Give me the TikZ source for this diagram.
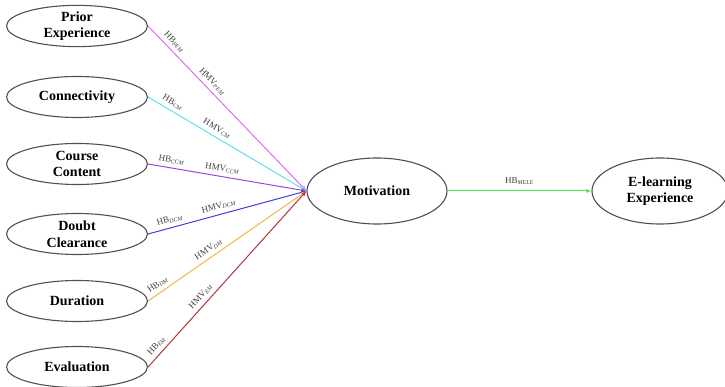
\documentclass[tikz,border=0pt]{standalone}
\usepackage{fontspec}
\setmainfont{Liberation Serif}
\usepackage{tikz}
\usetikzlibrary{shapes, arrows.meta, positioning, calc}
\definecolor{pemviolet}{RGB}{222, 110, 232}
\definecolor{cmcyan}{RGB}{90, 228, 232}
\definecolor{ccmpurple}{RGB}{160, 70, 215}
\definecolor{dcmblue}{RGB}{70, 60, 220}
\definecolor{dmorange}{RGB}{242, 182, 70}
\definecolor{emred}{RGB}{182, 52, 64}
\definecolor{melegreen}{RGB}{70, 232, 70}
\definecolor{rimgray}{RGB}{80, 80, 80}

\tikzset{
  factor/.style={ellipse, draw=rimgray, line width=1.1pt, inner sep=0pt,
    minimum width=141pt, minimum height=41pt, align=center,
    font=\fontsize{14}{16.5}\selectfont\bfseries},
  hub/.style={factor, minimum width=140pt, minimum height=66pt},
  linkarrow/.style={line width=1pt, -{Latex[length=5pt, width=4pt]}},
  coef/.style={sloped, above=3pt, inner sep=1pt, text=black!75,
    font=\fontsize{9}{10}\selectfont}
}
\newcommand{\coefsub}[1]{\textsubscript{\itshape\fontsize{6}{7}\selectfont #1}}

\begin{document}
\begin{tikzpicture}[x=1pt, y=-1pt]
  \useasboundingbox (0,0) rectangle (725,387);
  % Left: the six factors
  \node[factor] (pe) at (77, 26) {Prior\\Experience};
  \node[factor] (cn) at (77, 97) {Connectivity};
  \node[factor] (cc) at (77, 164) {Course\\Content};
  \node[factor] (dc) at (77, 234) {Doubt\\Clearance};
  \node[factor] (du) at (77, 301) {Duration};
  \node[factor] (ev) at (77, 367) {Evaluation};

  % Middle and right
  \node[hub] (mot) at (377, 191) {Motivation};
  \node[hub, minimum width=136pt] (ele) at (660, 191) {E-learning\\Experience};

  % Paths into motivation
  \draw[linkarrow, pemviolet] (pe.east) -- (mot.west)
    node[coef, pos=0.13] {HB\coefsub{PEM}} node[coef, pos=0.37] {HMV\coefsub{PEM}};
  \draw[linkarrow, cmcyan] (cn.east) -- (mot.west)
    node[coef, pos=0.13] {HB\coefsub{CM}} node[coef, pos=0.41] {HMV\coefsub{CM}};
  \draw[linkarrow, ccmpurple] (cc.east) -- (mot.west)
    node[coef, pos=0.14] {HB\coefsub{CCM}} node[coef, pos=0.46] {HMV\coefsub{CCM}};
  \draw[linkarrow, dcmblue] (dc.east) -- (mot.west)
    node[coef, pos=0.15] {HB\coefsub{DCM}} node[coef, pos=0.46] {HMV\coefsub{DCM}};
  \draw[linkarrow, dmorange] (du.east) -- (mot.west)
    node[coef, pos=0.09] {HB\coefsub{DM}} node[coef, pos=0.41] {HMV\coefsub{DM}};
  \draw[linkarrow, emred] (ev.east) -- (mot.west)
    node[coef, pos=0.09] {HB\coefsub{EM}} node[coef, pos=0.37] {HMV\coefsub{EM}};

  % Motivation to e-learning experience
  \draw[linkarrow, melegreen] (mot.east) -- (ele.west)
    node[coef, midway, above=5pt] {HB\coefsub{MELE}};
\end{tikzpicture}
\end{document}
